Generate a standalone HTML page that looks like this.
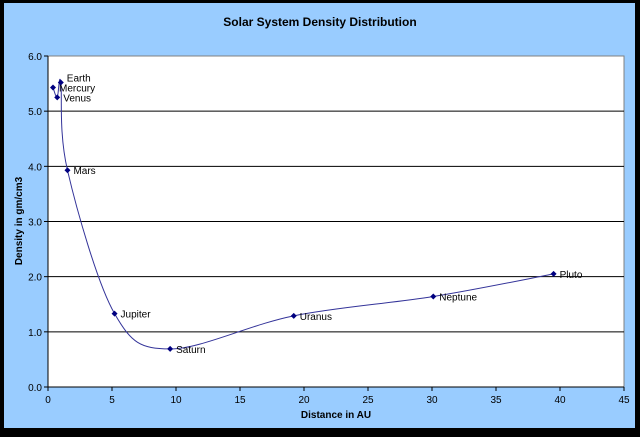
<!DOCTYPE html>
<html><head><meta charset="utf-8"><style>
body{margin:0;background:#000;}
svg{display:block;font-family:"Liberation Sans",Arial,sans-serif;}
</style></head><body>
<svg id="chart" width="640" height="437">
<rect x="0" y="0" width="640" height="437" fill="#000"/>
<rect x="4" y="3" width="631" height="425" fill="#99CCFF"/>
<text x="320" y="26" text-anchor="middle" font-size="12" font-weight="bold">Solar System Density Distribution</text>
<rect x="48" y="56" width="576" height="331" fill="#fff" stroke="#808080"/>
<g id="grid"></g><g id="axes"></g><g id="series"></g>
<text x="336" y="418" text-anchor="middle" font-size="10" font-weight="bold">Distance in AU</text>
<text transform="translate(22,221) rotate(-90)" text-anchor="middle" font-size="10" font-weight="bold">Density in gm/cm3</text>
</svg>
<script>
const names=["Mercury","Venus","Earth","Mars","Jupiter","Saturn","Uranus","Neptune","Pluto"];
const dist=[0.39,0.72,1.0,1.52,5.2,9.54,19.2,30.1,39.5];
const density=[5.43,5.25,5.52,3.93,1.33,0.69,1.29,1.64,2.05];
const xTicks=[0,5,10,15,20,25,30,35,40,45];
const yTicks=[0,1,2,3,4,5,6];
const X0=48,X1=624,Y0=387,Y1=56;
const sx=v=>X0+(v-0)/45*(X1-X0);
const sy=v=>Y0-(v-0)/6*(Y0-Y1);
const NS="http://www.w3.org/2000/svg";
function mk(tag,attrs,parent,txt){const e=document.createElementNS(NS,tag);for(const k in attrs)e.setAttribute(k,attrs[k]);if(txt!==undefined)e.textContent=txt;document.getElementById(parent).appendChild(e);return e;}
yTicks.forEach(t=>{
 const y=sy(t);
 if(t>0&&t<6){const g=mk('line',{x1:X0,x2:X1,y1:y,y2:y,stroke:'#000','stroke-width':1},'grid');
 
 }
 const tk=mk('line',{x1:X0-4,x2:X0,y1:y,y2:y,stroke:'#000'},'axes');
 
 
 const l=mk('text',{x:X0-6,y:y+4,'text-anchor':'end','font-size':10},'axes',t.toFixed(1));
 
 
});
xTicks.forEach(t=>{
 const x=sx(t);
 const tk=mk('line',{x1:x,x2:x,y1:Y0,y2:Y0+4,stroke:'#000'},'axes');
 
 
 const l=mk('text',{x:x,y:Y0+16,'text-anchor':'middle','font-size':10},'axes',String(t));
 
 
});
const ax=mk('line',{x1:X0,x2:X1,y1:Y0,y2:Y0,stroke:'#000'},'axes');


const ay=mk('line',{x1:X0,x2:X0,y1:Y0,y2:Y1,stroke:'#000'},'axes');


const P=dist.map((d,i)=>[sx(d),sy(density[i])]);
let d='M'+P[0][0]+','+P[0][1];
for(let i=0;i<P.length-1;i++){
 const p0=P[Math.max(0,i-1)],p1=P[i],p2=P[i+1],p3=P[Math.min(P.length-1,i+2)];
 const t=1/6;
 d+=` C${p1[0]+(p2[0]-p0[0])*t},${p1[1]+(p2[1]-p0[1])*t} ${p2[0]-(p3[0]-p1[0])*t},${p2[1]-(p3[1]-p1[1])*t} ${p2[0]},${p2[1]}`;
}
const line=mk('path',{d:d,fill:'none',stroke:'#333399','stroke-width':1},'series');


P.forEach((p,i)=>{
 const m=mk('path',{d:`M${p[0]},${p[1]-3}L${p[0]+3},${p[1]}L${p[0]},${p[1]+3}L${p[0]-3},${p[1]}Z`,fill:'#000080'},'series');
 
 
 const dy=names[i]==='Earth'?-1:(names[i]==='Mercury'?4:4);
 const l=mk('text',{x:p[0]+6,y:p[1]+dy,'font-size':10},'series',names[i]);
 
 
});
</script>
</body></html>
